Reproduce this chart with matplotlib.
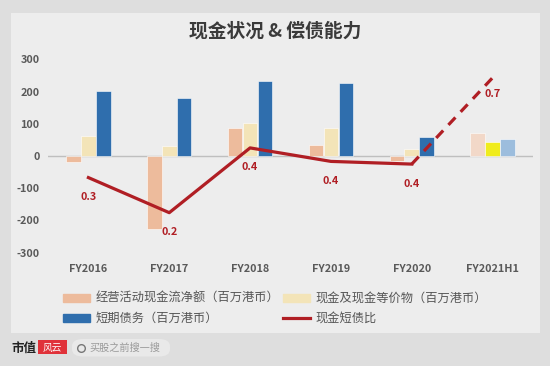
import matplotlib.pyplot as plt
from matplotlib.patches import Rectangle, FancyBboxPatch
from matplotlib.lines import Line2D
import numpy as np

plt.rcParams['font.family'] = ['Noto Sans CJK SC', 'DejaVu Sans']
plt.rcParams['axes.unicode_minus'] = False

years = ["FY2016", "FY2017", "FY2018", "FY2019", "FY2020", "FY2021H1"]
op_cash = [-18, -227, 88, 34, -15, 72]        # 经营活动现金流净额
cash_eq = [62, 31, 103, 88, 23, 42]           # 现金及现金等价物
short_debt = [202, 179, 234, 228, 58, 54]     # 短期债务
ratio = [0.33, 0.2, 0.44, 0.39, 0.38, 0.7]    # 现金短债比

c_op = ["#EDBB9C"] * 5 + ["#F2D8C8"]
c_cash = ["#F3E4B8"] * 5 + ["#F0EC1C"]
c_debt = ["#2F6EAD"] * 5 + ["#9CBDDD"]
red = "#B01E24"

fig = plt.figure(figsize=(5.5, 3.66), dpi=100)
fig.patch.set_facecolor("#DEDEDE")
# light panel behind the chart
fig.patches.append(Rectangle((10.5 / 550, 1 - 332.5 / 366), 529 / 550, 320 / 366,
                             transform=fig.transFigure, facecolor="#EDEDED",
                             edgecolor="none", zorder=-10))

ax = fig.add_axes([48 / 550, 1 - 259.1 / 366, 485 / 550, 206.2 / 366])
ax.set_facecolor("none")
x = np.arange(len(years))
w = 0.18
ax.bar(x - 0.185, op_cash, w, color=c_op, edgecolor="white", linewidth=0.4, zorder=2)
ax.bar(x, cash_eq, w, color=c_cash, edgecolor="white", linewidth=0.4, zorder=2)
ax.bar(x + 0.185, short_debt, w, color=c_debt, edgecolor="white", linewidth=0.4, zorder=2)
ax.axhline(0, color="#BFBFBF", linewidth=1, zorder=1)

ax.set_xlim(-0.5, 5.5)
ax.set_ylim(-320, 320)
ax.set_yticks([-300, -200, -100, 0, 100, 200, 300])
ax.set_xticks(x)
ax.set_xticklabels(years)
for s in ax.spines.values():
    s.set_visible(False)
ax.tick_params(length=0, labelsize=7.8, labelcolor="#595959", pad=6)
ax.tick_params(axis="x", pad=3.5)
for t in ax.get_xticklabels() + ax.get_yticklabels():
    t.set_fontweight("bold")

ax2 = ax.twinx()
ax2.set_ylim(0.028, 0.792)
ax2.axis("off")
ax2.plot(x[:5], ratio[:5], color=red, linewidth=2.3, zorder=3)
ax2.plot(x[4:], ratio[4:], color=red, linewidth=2.3, dashes=(3.2, 2.4), zorder=3)
for xi, r in zip(x, ratio):
    dy = -12 if xi == 5 else -14
    ax2.annotate(f"{r:.1f}", (xi, r), xytext=(0, dy),
                 textcoords="offset points", ha="center",
                 va="center", color=red, fontsize=7.8, fontweight="bold")

fig.text(0.5, 1 - 31 / 366, "现金状况 & 偿债能力", ha="center", va="center",
         fontsize=13.5, fontweight="bold", color="#3A3A3A")

# legend (column-wise fill -> order op, debt, cash, ratio)
handles = [Rectangle((0, 0), 1, 1, color="#EDBB9C"),
           Rectangle((0, 0), 1, 1, color="#2F6EAD"),
           Rectangle((0, 0), 1, 1, color="#F3E4B8"),
           Line2D([0], [0], color=red, linewidth=2.3)]
labels = ["经营活动现金流净额（百万港币）", "短期债务（百万港币）",
          "现金及现金等价物（百万港币）", "现金短债比"]
leg = fig.legend(handles, labels, ncol=2, loc="upper left",
                 bbox_to_anchor=(57 / 550, 1 - 286 / 366), frameon=False,
                 fontsize=8.8, handlelength=2.2, handleheight=0.63,
                 columnspacing=0.3, labelspacing=0.55, handletextpad=0.45,
                 borderpad=0)
for t in leg.get_texts():
    t.set_color("#555555")

# footer logo and search box
fig.text(11 / 550, 1 - 348 / 366, "市值", fontsize=9, fontweight="bold",
         color="#222222", va="center", ha="left")
fig.patches.append(Rectangle((37.5 / 550, 1 - 354 / 366), 29 / 550, 14 / 366,
                             transform=fig.transFigure, facecolor="#E0323A",
                             edgecolor="none"))
fig.text(52 / 550, 1 - 347.5 / 366, "风云", fontsize=7, fontstyle="italic",
         color="white", va="center", ha="center")
fig.patches.append(FancyBboxPatch((72 / 550, 1 - 356.5 / 366), 98 / 550, 17.5 / 366,
                                  boxstyle="round,pad=0,rounding_size=0.02",
                                  transform=fig.transFigure, facecolor="#E9E9E9",
                                  edgecolor="none"))
fig.lines.append(Line2D([81 / 550], [1 - 347.5 / 366], transform=fig.transFigure,
                        marker="o", markersize=5.5, markerfacecolor="none",
                        markeredgecolor="#777777", markeredgewidth=1.0))
fig.text(89 / 550, 1 - 348 / 366, "买股之前搜一搜", fontsize=7.3,
         color="#9A9A9A", va="center", ha="left")

fig.savefig("out.png", dpi=100, facecolor=fig.get_facecolor())
